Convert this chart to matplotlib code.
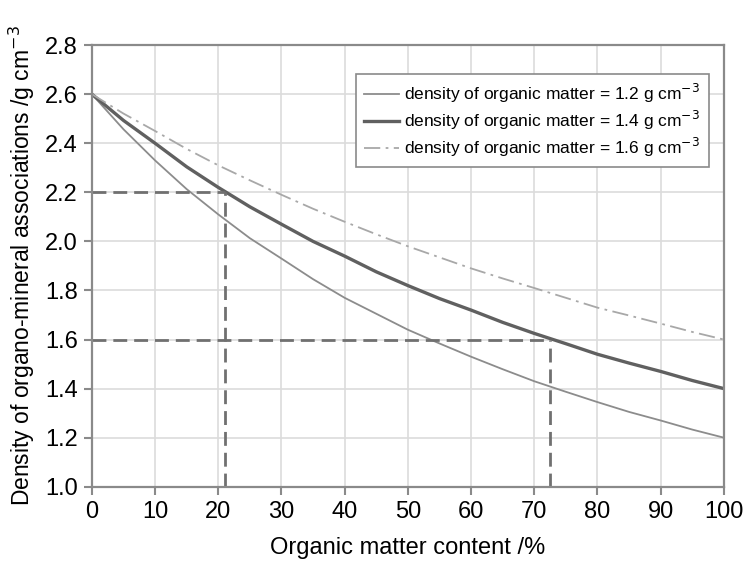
import matplotlib
matplotlib.use("Agg")
import matplotlib.pyplot as plt

plt.rcParams['font.family'] = ['Liberation Sans', 'DejaVu Sans']

# valores (cada 5 %)
om_content = [0, 5, 10, 15, 20, 25, 30, 35, 40, 45, 50,
              55, 60, 65, 70, 75, 80, 85, 90, 95, 100]
dens_12 = [2.60, 2.457, 2.33, 2.213, 2.11, 2.013, 1.93, 1.846, 1.77, 1.705, 1.64,
           1.584, 1.53, 1.479, 1.43, 1.387, 1.345, 1.305, 1.27, 1.233, 1.20]
dens_14 = [2.60, 2.493, 2.40, 2.304, 2.22, 2.141, 2.07, 2.00, 1.94, 1.876, 1.82,
           1.767, 1.72, 1.670, 1.625, 1.583, 1.54, 1.504, 1.47, 1.433, 1.40]
dens_16 = [2.60, 2.521, 2.45, 2.377, 2.31, 2.249, 2.19, 2.133, 2.08, 2.029, 1.98,
           1.935, 1.89, 1.849, 1.81, 1.770, 1.73, 1.698, 1.665, 1.631, 1.60]
labels = ["density of organic matter = 1.2 g cm$^{-3}$",
          "density of organic matter = 1.4 g cm$^{-3}$",
          "density of organic matter = 1.6 g cm$^{-3}$"]

# lineas de referencia
ref_x = [21, 72.5]
ref_y = [2.2, 1.6]

fig = plt.figure(figsize=(7.47, 5.64), dpi=100)
ax = fig.add_axes([0.123, 0.137, 0.846, 0.783])

ax.plot(om_content, dens_12, color="#8c8c8c", lw=1.3, label=labels[0])
ax.plot(om_content, dens_14, color="#606060", lw=2.4, label=labels[1])
ax.plot(om_content, dens_16, color="#a8a8a8", lw=1.3, ls=(0, (9, 3, 1.5, 3)), label=labels[2])

for xv, yv in zip(ref_x, ref_y):
    ax.plot([0, xv], [yv, yv], color="#707070", lw=2, ls=(0, (5, 2.5)))
    ax.plot([xv, xv], [1.0, yv], color="#707070", lw=2, ls=(0, (5, 2.5)))

ax.set_xlim(0, 100)
ax.set_ylim(1.0, 2.8)
ax.set_xticks(range(0, 101, 10))
ax.set_yticks([1.0 + 0.2 * i for i in range(10)])
ax.set_yticklabels([f"{1.0 + 0.2 * i:.1f}" for i in range(10)])
ax.grid(True, color="#dcdcdc", lw=1.2)
ax.set_axisbelow(True)

for s in ax.spines.values():
    s.set_color("#8a8a8a")
    s.set_linewidth(1.6)
ax.tick_params(colors="#8a8a8a", labelcolor="black", labelsize=17, width=1.5, length=6, pad=4)

ax.set_xlabel("Organic matter content /%", fontsize=17, labelpad=10)
ax.set_ylabel("Density of organo-mineral associations /g cm$^{-3}$", fontsize=16.5, labelpad=6)

leg = ax.legend(loc="upper right", bbox_to_anchor=(0.99, 0.955), fontsize=12.5,
                handlelength=2.0, handletextpad=0.3, labelspacing=0.2,
                borderpad=0.5, fancybox=False, framealpha=1)
leg.get_frame().set_edgecolor("#8a8a8a")
leg.get_frame().set_linewidth(1.2)

fig.savefig("out.png", dpi=100)
